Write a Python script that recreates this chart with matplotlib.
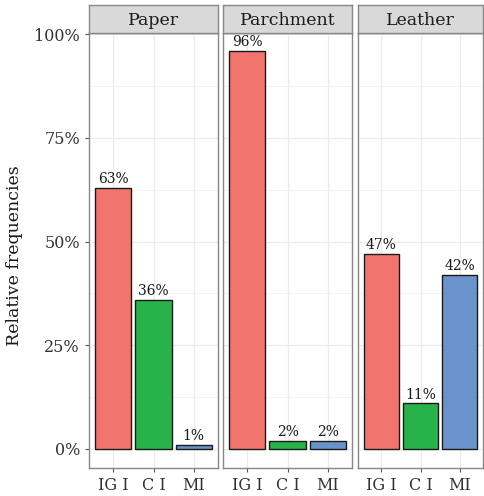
import matplotlib
matplotlib.use("Agg")
import matplotlib.pyplot as plt
import numpy as np

materials = ["Paper", "Parchment", "Leather"]
categories = ["IGI", "CI", "MI"]
values = {
    "Paper": [0.63, 0.36, 0.01],
    "Parchment": [0.96, 0.02, 0.02],
    "Leather": [0.47, 0.11, 0.42],
}
labels = {
    "Paper": ["63%", "36%", "1%"],
    "Parchment": ["96%", "2%", "2%"],
    "Leather": ["47%", "11%", "42%"],
}
tick_labels = ["IG I", "C I", "MI"]
y_ticks = [0, 0.25, 0.5, 0.75, 1.0]
y_tick_labels = ["0%", "25%", "50%", "75%", "100%"]
colors = ["#F2756D", "#27B24A", "#6A92CB"]

plt.rcParams['font.family'] = ['DejaVu Serif']

W, H = 484, 496
fig = plt.figure(figsize=(W / 100, H / 100), dpi=100)

panels_x = [(89, 218), (223, 352), (358, 483)]
top, bottom = 33, 468
strip_top = 5

for i, m in enumerate(materials):
    x0, x1 = panels_x[i]
    ax = fig.add_axes([x0 / W, 1 - bottom / H, (x1 - x0) / W, (bottom - top) / H])
    xs = np.arange(1, 4)
    ax.bar(xs, values[m], width=0.9, color=colors, edgecolor="#1a1a1a", linewidth=1.0, zorder=3)
    for x, v, lab in zip(xs, values[m], labels[m]):
        ax.text(x, v + 0.004, lab, ha="center", va="bottom", fontsize=10, color="#1a1a1a", zorder=4)
    ax.set_xlim(0.4, 3.6)
    ax.set_ylim(-0.046, 1.003)
    ax.set_xticks(xs)
    ax.set_xticklabels(tick_labels, fontsize=11.5, color="#333333")
    ax.set_yticks(y_ticks)
    ax.set_yticks([0.125, 0.375, 0.625, 0.875], minor=True)
    ax.tick_params(axis="both", which="major", color="#555555", length=3, width=0.8)
    ax.tick_params(axis="y", which="minor", length=0)
    if i == 0:
        ax.set_yticklabels(y_tick_labels, fontsize=11.5, color="#333333")
    else:
        ax.set_yticklabels([])
        ax.tick_params(axis="y", which="major", length=0)
    ax.grid(True, which="major", color="#EBEBEB", linewidth=0.9, zorder=0)
    ax.grid(True, which="minor", axis="y", color="#F3F3F3", linewidth=0.6, zorder=0)
    ax.set_axisbelow(True)
    for s in ax.spines.values():
        s.set_color("#888888")
        s.set_linewidth(1.0)
    # strip
    sax = fig.add_axes([x0 / W, 1 - top / H, (x1 - x0) / W, (top - strip_top) / H])
    sax.set_xticks([]); sax.set_yticks([])
    sax.set_facecolor("#D9D9D9")
    for s in sax.spines.values():
        s.set_color("#888888")
        s.set_linewidth(1.0)
    sax.text(0.5, 0.45, m, ha="center", va="center", fontsize=12.5, color="#1a1a1a",
             transform=sax.transAxes)

fig.text(15 / W, 1 - 256 / H, "Relative frequencies", rotation=90, ha="center", va="center",
         fontsize=12.5, color="#1a1a1a")

fig.savefig("out.png", dpi=100, facecolor="white")
